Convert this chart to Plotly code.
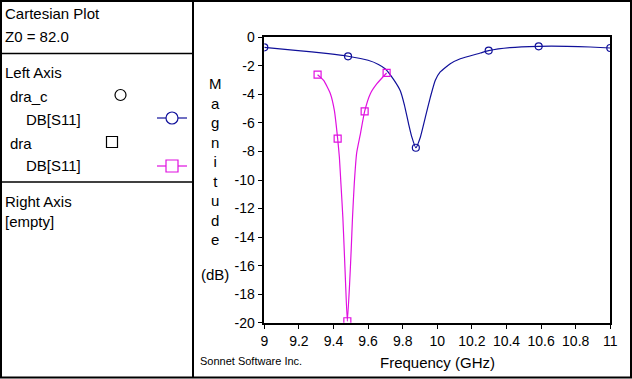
import plotly.graph_objects as go

W, H = 632, 379

# ---- data ----
dra_c_line_f = [9.0, 9.18, 9.37, 9.484, 9.60, 9.66, 9.70, 9.747, 9.786, 9.81, 9.834, 9.853, 9.876,
                9.902, 9.931, 9.96, 9.988, 10.017, 10.075, 10.133, 10.249, 10.297, 10.42, 10.586,
                10.75, 10.884, 11.0]
dra_c_line_db = [-0.70, -0.91, -1.15, -1.33, -1.61, -1.90, -2.22, -2.95, -3.75, -4.75, -6.06, -7.0, -7.74,
                 -7.0, -5.6, -4.19, -3.02, -2.43, -1.85, -1.5, -1.1, -0.93, -0.72, -0.63,
                 -0.63, -0.68, -0.75]
dra_c_pts_f = [9.0, 9.484, 9.876, 10.297, 10.586, 11.0]
dra_c_pts_db = [-0.70, -1.33, -7.74, -0.93, -0.63, -0.75]

dra_line_f = [9.308, 9.343, 9.382, 9.405, 9.424, 9.434, 9.443, 9.454, 9.462, 9.470, 9.480,
              9.493, 9.502, 9.510, 9.520, 9.534, 9.555, 9.58, 9.613, 9.651, 9.707]
dra_line_db = [-2.62, -3.02, -3.95, -5.12, -7.1, -8.4, -10.27, -12.6, -14.9, -17.3, -19.9,
               -17.3, -14.95, -12.6, -10.27, -8.1, -6.8, -5.19, -3.95, -3.25, -2.5]
dra_pts_f = [9.308, 9.424, 9.48, 9.58, 9.707]
dra_pts_db = [-2.62, -7.1, -19.9, -5.19, -2.5]

x_ticks = [9, 9.2, 9.4, 9.6, 9.8, 10, 10.2, 10.4, 10.6, 10.8, 11]
y_ticks = [0, -2, -4, -6, -8, -10, -12, -14, -16, -18, -20]

BLUE = "#10109A"
MAG = "#E010E0"
FONT = "Liberation Sans, Arial, sans-serif"

def px(x):
    return x / W

def py(y):
    return 1 - y / H

fig = go.Figure()
fig.add_trace(go.Scatter(x=dra_c_line_f, y=dra_c_line_db, mode="lines",
                         line=dict(color=BLUE, width=1.2, shape="spline", smoothing=0.5),
                         hoverinfo="skip", showlegend=False))
fig.add_trace(go.Scatter(x=dra_c_pts_f, y=dra_c_pts_db, mode="markers", name="dra_c DB[S11]",
                         marker=dict(symbol="circle-open", size=7, color=BLUE, line=dict(width=1.2)),
                         showlegend=False))
fig.add_trace(go.Scatter(x=dra_line_f, y=dra_line_db, mode="lines",
                         line=dict(color=MAG, width=1.2, shape="spline", smoothing=0.5),
                         hoverinfo="skip", showlegend=False))
fig.add_trace(go.Scatter(x=dra_pts_f, y=dra_pts_db, mode="markers", name="dra DB[S11]",
                         marker=dict(symbol="square-open", size=7, color=MAG, line=dict(width=1.2)),
                         showlegend=False))

x0p, x1p = 264.3, 610.3
ytop, ybot = 37.3, 322.7

fig.update_layout(
    width=W, height=H, autosize=False,
    margin=dict(l=0, r=0, t=0, b=0, pad=0, autoexpand=False),
    paper_bgcolor="white", plot_bgcolor="white",
    font=dict(family=FONT, size=14, color="black"),
    xaxis=dict(domain=[px(x0p), px(x1p)], range=[9, 11], tickvals=x_ticks, automargin=False,
               ticktext=[f"{v:g}" for v in x_ticks], showgrid=False, zeroline=False,
               showline=True, linecolor="black", linewidth=1.5, mirror=True,
               ticks="outside", ticklen=5, tickcolor="black", tickfont=dict(size=14)),
    yaxis=dict(domain=[py(ybot), py(ytop)], range=[-20, 0], tickvals=y_ticks, automargin=False,
               ticktext=[f"{v:g}" for v in y_ticks], showgrid=False, zeroline=False,
               showline=True, linecolor="black", linewidth=1.5, mirror=True,
               ticks="outside", ticklen=5, tickcolor="black", tickfont=dict(size=14)),
)

shapes = []
# outer border and panel dividers
shapes.append(dict(type="rect", xref="paper", yref="paper", x0=px(1), x1=px(631), y0=py(1), y1=py(377.5),
                   line=dict(color="black", width=2)))
shapes.append(dict(type="line", xref="paper", yref="paper", x0=px(193), x1=px(193), y0=py(0), y1=py(378),
                   line=dict(color="black", width=2)))
for yy in (53.5, 182):
    shapes.append(dict(type="line", xref="paper", yref="paper", x0=px(0), x1=px(193), y0=py(yy), y1=py(yy),
                       line=dict(color="black", width=1.5)))
# legend symbols
shapes.append(dict(type="circle", xref="paper", yref="paper", x0=px(115), x1=px(126), y0=py(89.5), y1=py(100.5),
                   line=dict(color="black", width=1.2)))
shapes.append(dict(type="rect", xref="paper", yref="paper", x0=px(106.5), x1=px(117.5), y0=py(136.5), y1=py(147.5),
                   line=dict(color="black", width=1.2)))
shapes.append(dict(type="line", xref="paper", yref="paper", x0=px(157), x1=px(187), y0=py(118), y1=py(118),
                   line=dict(color=BLUE, width=1.2)))
shapes.append(dict(type="circle", xref="paper", yref="paper", x0=px(166), x1=px(178), y0=py(112), y1=py(124),
                   line=dict(color=BLUE, width=1.2), fillcolor="white"))
shapes.append(dict(type="line", xref="paper", yref="paper", x0=px(157), x1=px(187), y0=py(166), y1=py(166),
                   line=dict(color=MAG, width=1.2)))
shapes.append(dict(type="rect", xref="paper", yref="paper", x0=px(166), x1=px(178), y0=py(160), y1=py(172),
                   line=dict(color=MAG, width=1.2), fillcolor="white"))
fig.update_layout(shapes=shapes)

ann = []
def text(t, x, y, size=15, xanchor="left", family=FONT):
    ann.append(dict(text=t, x=px(x), y=py(y), xref="paper", yref="paper", showarrow=False,
                    xanchor=xanchor, yanchor="middle", font=dict(size=size, family=family, color="black")))

text("Cartesian Plot", 3, 13)
text("Z0 = 82.0", 3, 36)
text("Left Axis", 3, 73)
text("dra_c", 8, 96)
text("DB[S11]", 24, 119)
text("dra", 8, 143)
text("DB[S11]", 24, 166)
text("Right Axis", 3, 201)
text("[empty]", 3, 221)

ann.append(dict(text="M<br>a<br>g<br>n<br>i<br>t<br>u<br>d<br>e", x=px(215), y=py(161), xref="paper",
                yref="paper", showarrow=False, xanchor="center", yanchor="middle", align="center",
                font=dict(size=15, family=FONT, color="black")))
text("(dB)", 215, 274, xanchor="center")
text("Frequency (GHz)", 437, 362, xanchor="center")
text("Sonnet Software Inc.", 198, 361, size=11)
fig.update_layout(annotations=ann)

fig.write_html("out.html", config={"responsive": False, "displayModeBar": False},
               post_script="document.body.style.margin='0';document.body.style.overflow='hidden';")
